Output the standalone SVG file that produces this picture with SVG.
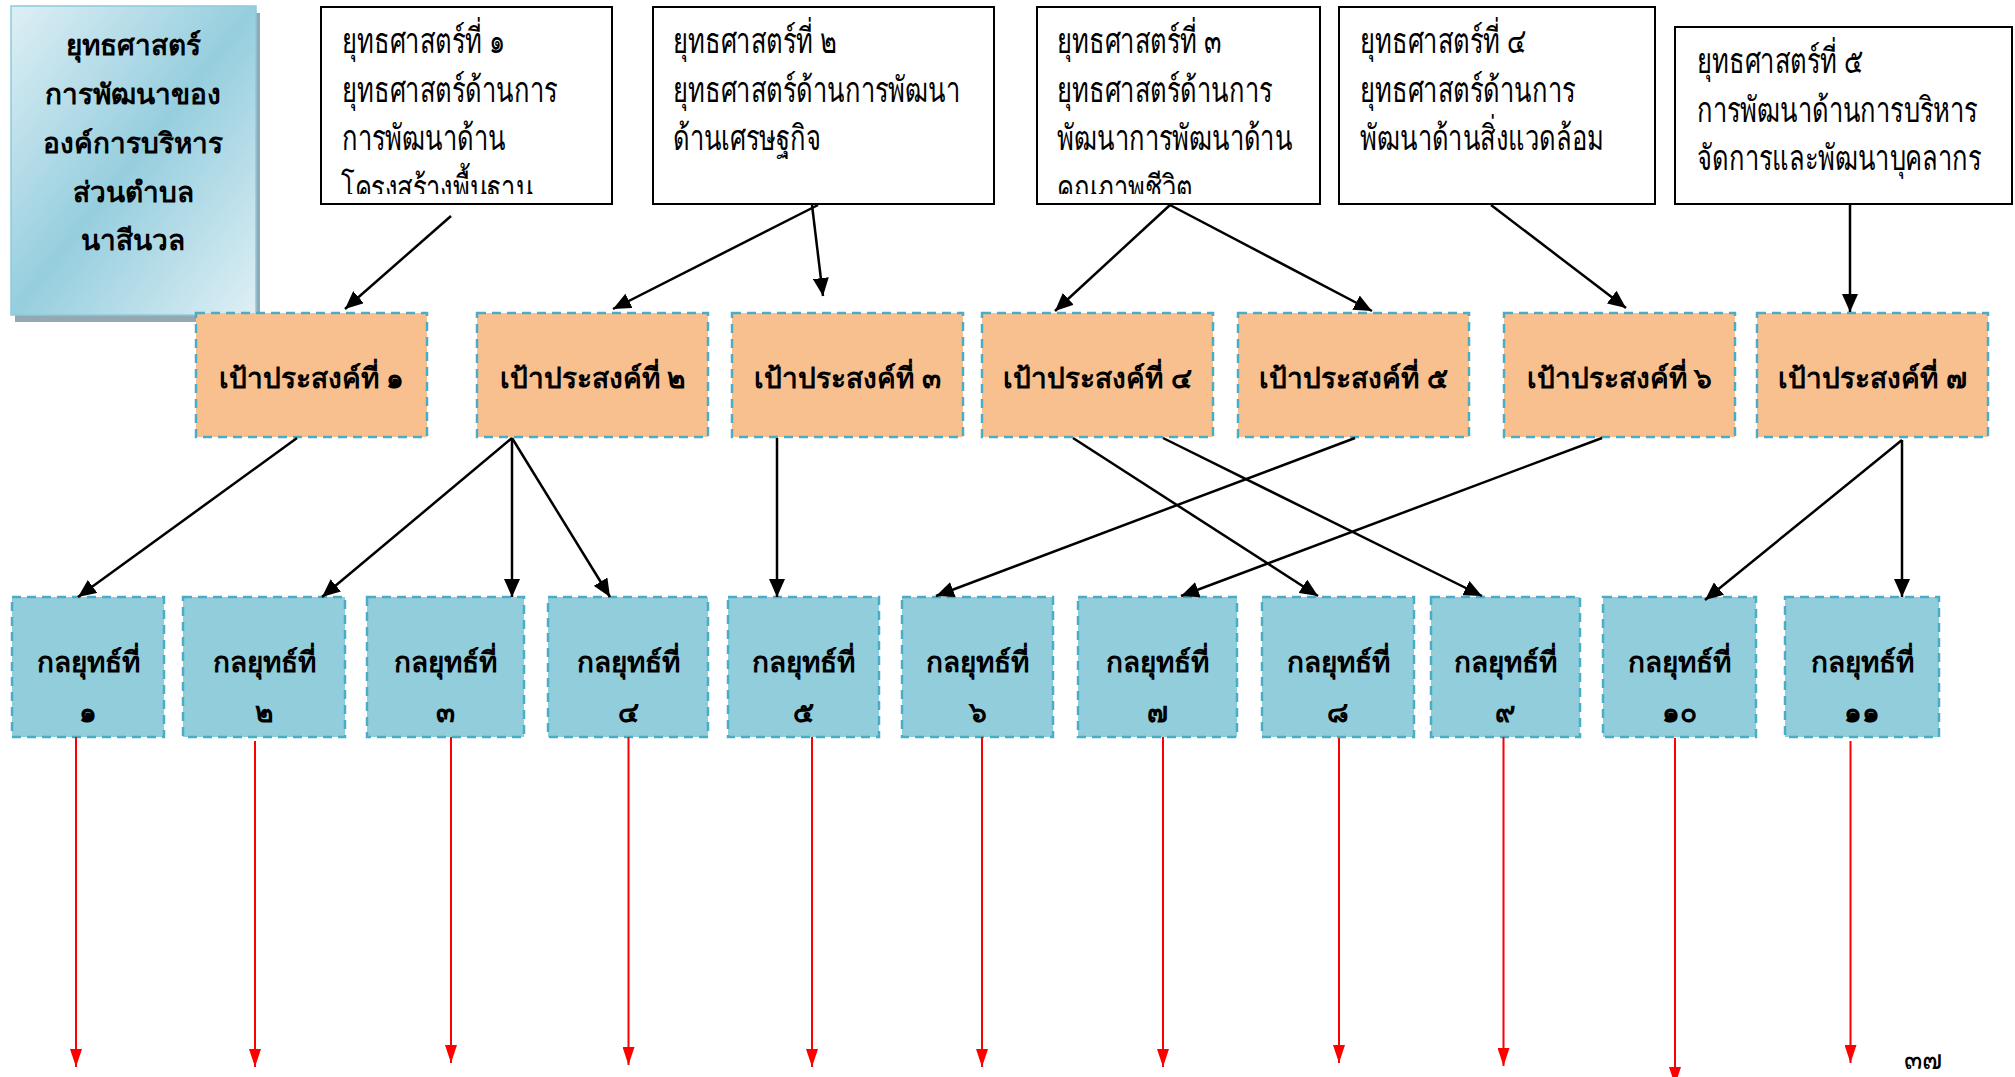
<svg xmlns="http://www.w3.org/2000/svg" width="2015" height="1077" viewBox="0 0 2015 1077">
<style>
text{font-family:"Noto Sans","DejaVu Sans",sans-serif;fill:#000}
.st{font-size:35px;font-weight:300}
.b{font-weight:bold;font-size:28px;text-anchor:middle}
.sbox{fill:#fff;stroke:#000;stroke-width:2}
.obj{fill:#F9C08F;stroke:#4BACC6;stroke-width:2.5;stroke-dasharray:9 6}
.tac{fill:#92CDDC;stroke:#4BACC6;stroke-width:2.5;stroke-dasharray:9 6}
.c{stroke:#000;stroke-width:2.5;fill:none;marker-end:url(#ah)}
.r{stroke:#FF0000;stroke-width:2;fill:none;marker-end:url(#rh)}
</style>
<defs>
<linearGradient id="tg" x1="0" y1="0" x2="1" y2="1">
<stop offset="0" stop-color="#deeff5"/>
<stop offset="0.5" stop-color="#96cede"/>
<stop offset="1" stop-color="#deeff5"/>
</linearGradient>
<marker id="ah" markerUnits="userSpaceOnUse" markerWidth="18" markerHeight="16" viewBox="0 0 18 16" refX="18" refY="8" orient="auto">
<path d="M0,0 L18,8 L0,16 z" fill="#000"/>
</marker>
<marker id="rh" markerUnits="userSpaceOnUse" markerWidth="18" markerHeight="12" viewBox="0 0 18 12" refX="18" refY="6" orient="auto">
<path d="M0,0 L18,6 L0,12 z" fill="#FF0000"/>
</marker>
<clipPath id="cs1"><rect x="321" y="7" width="291" height="187"/></clipPath>
<clipPath id="cs3"><rect x="1037" y="7" width="283" height="187"/></clipPath>
</defs>

<g id="title">
<rect x="15" y="13" width="245" height="309" fill="#94a8b1"/>
<rect x="11" y="6" width="245" height="309" fill="url(#tg)" stroke="#8ccadb" stroke-width="1.5"/>
<text class="b" x="133" y="55">ยุทธศาสตร์</text>
<text class="b" x="133" y="104">การพัฒนาของ</text>
<text class="b" x="133" y="153">องค์การบริหาร</text>
<text class="b" x="133" y="202">ส่วนตำบล</text>
<text class="b" x="133" y="250">นาสีนวล</text>
</g>

<g id="s1">
<rect class="sbox" x="321" y="7" width="291" height="197"/>
<g clip-path="url(#cs1)"><g transform="translate(342,0) scale(0.73,1)">
<text class="st" x="0" y="53">ยุทธศาสตร์ที่ ๑</text>
<text class="st" x="0" y="102">ยุทธศาสตร์ด้านการ</text>
<text class="st" x="0" y="150">การพัฒนาด้าน</text>
<text class="st" x="-1" y="200">โครงสร้างพื้นฐาน</text>
</g></g>
</g>
<g id="s2">
<rect class="sbox" x="653" y="7" width="341" height="197"/>
<g transform="translate(673,0) scale(0.73,1)">
<text class="st" x="0" y="53">ยุทธศาสตร์ที่ ๒</text>
<text class="st" x="0" y="102">ยุทธศาสตร์ด้านการพัฒนา</text>
<text class="st" x="0" y="150">ด้านเศรษฐกิจ</text>
</g>
</g>
<g id="s3">
<rect class="sbox" x="1037" y="7" width="283" height="197"/>
<g clip-path="url(#cs3)"><g transform="translate(1057,0) scale(0.73,1)">
<text class="st" x="0" y="53">ยุทธศาสตร์ที่ ๓</text>
<text class="st" x="0" y="102">ยุทธศาสตร์ด้านการ</text>
<text class="st" x="0" y="150">พัฒนาการพัฒนาด้าน</text>
<text class="st" x="0" y="200">คุณภาพชีวิต</text>
</g></g>
</g>
<g id="s4">
<rect class="sbox" x="1339" y="7" width="316" height="197"/>
<g transform="translate(1360,0) scale(0.73,1)">
<text class="st" x="0" y="53">ยุทธศาสตร์ที่ ๔</text>
<text class="st" x="0" y="102">ยุทธศาสตร์ด้านการ</text>
<text class="st" x="0" y="150">พัฒนาด้านสิ่งแวดล้อม</text>
</g>
</g>
<g id="s5">
<rect class="sbox" x="1675" y="27" width="337" height="177"/>
<g transform="translate(1697,0) scale(0.73,1)">
<text class="st" x="0" y="73">ยุทธศาสตร์ที่ ๕</text>
<text class="st" x="0" y="122">การพัฒนาด้านการบริหาร</text>
<text class="st" x="0" y="170">จัดการและพัฒนาบุคลากร</text>
</g>
</g>

<g id="o1"><rect class="obj" x="196" y="313" width="231" height="124"/><text class="b" x="311.5" y="388">เป้าประสงค์ที่ ๑</text></g>
<g id="o2"><rect class="obj" x="477" y="313" width="231" height="124"/><text class="b" x="592.5" y="388">เป้าประสงค์ที่ ๒</text></g>
<g id="o3"><rect class="obj" x="732" y="313" width="231" height="124"/><text class="b" x="847.5" y="388">เป้าประสงค์ที่ ๓</text></g>
<g id="o4"><rect class="obj" x="982" y="313" width="231" height="124"/><text class="b" x="1097.5" y="388">เป้าประสงค์ที่ ๔</text></g>
<g id="o5"><rect class="obj" x="1238" y="313" width="231" height="124"/><text class="b" x="1353.5" y="388">เป้าประสงค์ที่ ๕</text></g>
<g id="o6"><rect class="obj" x="1504" y="313" width="231" height="124"/><text class="b" x="1619.5" y="388">เป้าประสงค์ที่ ๖</text></g>
<g id="o7"><rect class="obj" x="1757" y="313" width="231" height="124"/><text class="b" x="1872.5" y="388">เป้าประสงค์ที่ ๗</text></g>

<g id="t1"><rect class="tac" x="12" y="597" width="152" height="140"/><text class="b" x="88" y="672">กลยุทธ์ที่</text><text class="b" x="88" y="722">๑</text></g>
<g id="t2"><rect class="tac" x="183" y="597" width="162" height="140"/><text class="b" x="264" y="672">กลยุทธ์ที่</text><text class="b" x="264" y="722">๒</text></g>
<g id="t3"><rect class="tac" x="367" y="597" width="157" height="140"/><text class="b" x="445.5" y="672">กลยุทธ์ที่</text><text class="b" x="445.5" y="722">๓</text></g>
<g id="t4"><rect class="tac" x="548" y="597" width="160" height="140"/><text class="b" x="628" y="672">กลยุทธ์ที่</text><text class="b" x="628" y="722">๔</text></g>
<g id="t5"><rect class="tac" x="728" y="597" width="151" height="140"/><text class="b" x="803.5" y="672">กลยุทธ์ที่</text><text class="b" x="803.5" y="722">๕</text></g>
<g id="t6"><rect class="tac" x="902" y="597" width="151" height="140"/><text class="b" x="977.5" y="672">กลยุทธ์ที่</text><text class="b" x="977.5" y="722">๖</text></g>
<g id="t7"><rect class="tac" x="1078" y="597" width="159" height="140"/><text class="b" x="1157.5" y="672">กลยุทธ์ที่</text><text class="b" x="1157.5" y="722">๗</text></g>
<g id="t8"><rect class="tac" x="1262" y="597" width="152" height="140"/><text class="b" x="1338" y="672">กลยุทธ์ที่</text><text class="b" x="1338" y="722">๘</text></g>
<g id="t9"><rect class="tac" x="1431" y="597" width="149" height="140"/><text class="b" x="1505.5" y="672">กลยุทธ์ที่</text><text class="b" x="1505.5" y="722">๙</text></g>
<g id="t10"><rect class="tac" x="1603" y="597" width="153" height="140"/><text class="b" x="1679.5" y="672">กลยุทธ์ที่</text><text class="b" x="1679.5" y="722">๑๐</text></g>
<g id="t11"><rect class="tac" x="1785" y="597" width="154" height="140"/><text class="b" x="1862" y="672">กลยุทธ์ที่</text><text class="b" x="1862" y="722">๑๑</text></g>

<g id="connectors">
<line class="c" x1="451" y1="216" x2="345" y2="309"/>
<line class="c" x1="818" y1="205" x2="613" y2="309"/>
<line class="c" x1="812" y1="205" x2="823" y2="296"/>
<line class="c" x1="1170" y1="205" x2="1055" y2="311"/>
<line class="c" x1="1170" y1="205" x2="1372" y2="311"/>
<line class="c" x1="1491" y1="205" x2="1626" y2="308"/>
<line class="c" x1="1850" y1="205" x2="1850" y2="312"/>
<line class="c" x1="297" y1="438" x2="78" y2="597"/>
<line class="c" x1="512" y1="438" x2="322" y2="597"/>
<line class="c" x1="512" y1="438" x2="512" y2="597"/>
<line class="c" x1="512" y1="438" x2="610" y2="597"/>
<line class="c" x1="777" y1="438" x2="777" y2="597"/>
<line class="c" x1="1355" y1="438" x2="936" y2="596"/>
<line class="c" x1="1602" y1="438" x2="1181" y2="596"/>
<line class="c" x1="1073" y1="438" x2="1318" y2="596"/>
<line class="c" x1="1163" y1="438" x2="1482" y2="596"/>
<line class="c" x1="1902" y1="440" x2="1705" y2="600"/>
<line class="c" x1="1902" y1="440" x2="1902" y2="597"/>
<line class="r" x1="76" y1="737" x2="76" y2="1067"/>
<line class="r" x1="255" y1="741" x2="255" y2="1067"/>
<line class="r" x1="451" y1="737" x2="451" y2="1063"/>
<line class="r" x1="628.5" y1="737" x2="628.5" y2="1065"/>
<line class="r" x1="812" y1="737" x2="812" y2="1067"/>
<line class="r" x1="982" y1="737" x2="982" y2="1067"/>
<line class="r" x1="1163" y1="737" x2="1163" y2="1067"/>
<line class="r" x1="1339" y1="738" x2="1339" y2="1063"/>
<line class="r" x1="1503.5" y1="737" x2="1503.5" y2="1066"/>
<line class="r" x1="1675" y1="738" x2="1675" y2="1085"/>
<line class="r" x1="1850.5" y1="741" x2="1850.5" y2="1063"/>
</g>

<text x="1904" y="1069" style="font-size:27px">๓๗</text>
</svg>
